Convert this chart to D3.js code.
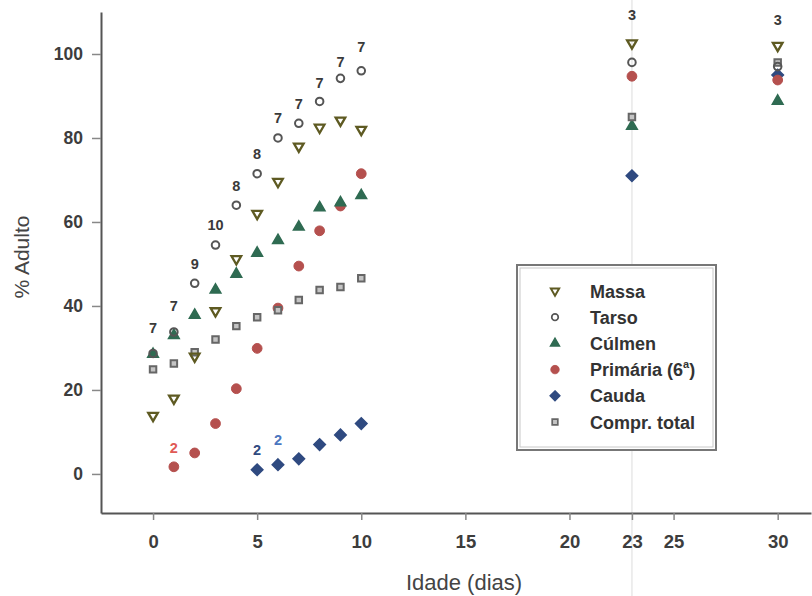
<!DOCTYPE html>
<html>
<head>
<meta charset="utf-8">
<script src="https://d3js.org/d3.v7.min.js"></script>
<style>
  body { margin: 0; background: #fff; }
  svg { display: block; font-family: Arial, "Liberation Sans", sans-serif; }
</style>
</head>
<body>
<script>
// values (% of adult size by age)
const ages = [0, 1, 2, 3, 4, 5, 6, 7, 8, 9, 10, 23, 30];
const massa = [13.9, 18, 28, 38.8, 51.2, 62, 69.6, 78, 82.5, 84.2, 82, 102.6, 102];
const tarso = [28.7, 33.8, 45.4, 54.5, 64, 71.5, 80, 83.5, 88.7, 94.2, 96, 98, 97];
const culmen = [28.5, 33, 37.8, 43.8, 47.6, 52.6, 55.6, 58.8, 63.4, 64.6, 66.3, 82.8, 88.8];
const primariaAges = [1, 2, 3, 4, 5, 6, 7, 8, 9, 10, 23, 30];
const primaria = [1.7, 5, 12, 20.3, 29.9, 39.5, 49.5, 57.9, 63.8, 71.5, 94.7, 93.8];
const caudaAges = [5, 6, 7, 8, 9, 10, 23, 30];
const cauda = [1, 2.2, 3.6, 7, 9.3, 12, 71, 95];
const comprTotal = [24.9, 26.3, 29, 32, 35.2, 37.3, 39, 41.4, 43.8, 44.5, 46.6, 85, 98];

// sample sizes printed above the points
const nAges = [0, 1, 2, 3, 4, 5, 6, 7, 8, 9, 10, 23, 30];
const nLabels = ["7", "7", "9", "10", "8", "8", "7", "7", "7", "7", "7", "3", "3"];
const nPos = [33.5, 38.8, 48.8, 58.2, 67.3, 75, 83.6, 87, 92, 97, 100.5, 108, 107];
const nSmallAges = [1, 5, 6];
const nSmallLabels = ["2", "2", "2"];
const nSmallPos = [5, 4.5, 7];
const nSmallColors = ["#e05a55", "#2f4a80", "#4a76c0"];

const xTicks = [0, 5, 10, 15, 20, 23, 25, 30];
const yTicks = [0, 20, 40, 60, 80, 100];

const series = [
  { name: "Cauda", xs: caudaAges, ys: cauda, sym: d3.symbolDiamond2, size: 85, fill: "#2f4a80", stroke: "#2f4a80", sw: 1.5 },
  { name: "Primária (6ª)", xs: primariaAges, ys: primaria, sym: d3.symbolCircle, size: 75, fill: "#b5504e", stroke: "#b5504e", sw: 1 },
  { name: "Cúlmen", xs: ages, ys: culmen, sym: d3.symbolTriangle, size: 50, fill: "#2f6b52", stroke: "#2f6b52", sw: 1.5 },
  { name: "Compr. total", xs: ages, ys: comprTotal, sym: d3.symbolSquare, size: 42, fill: "#c4c4c4", stroke: "#666", sw: 2 },
  { name: "Tarso", xs: ages, ys: tarso, sym: d3.symbolCircle, size: 45, fill: "none", stroke: "#555", sw: 2 },
  { name: "Massa", xs: ages, ys: massa, sym: d3.symbolTriangle, size: 40, fill: "none", stroke: "#5e5a22", sw: 2.3, flip: true }
];
const legendOrder = ["Massa", "Tarso", "Cúlmen", "Primária (6ª)", "Cauda", "Compr. total"];

const W = 812, H = 596;
const svg = d3.select("body").append("svg").attr("width", W).attr("height", H);

const x = d3.scaleLinear().domain([-2.5, 31.6]).range([101, 811]);
const y = d3.scaleLinear().domain([-9.3, 110]).range([513, 12]);

// faint vertical seam at day 23
svg.append("line")
  .attr("x1", x(23)).attr("x2", x(23)).attr("y1", 0).attr("y2", H)
  .attr("stroke", "#e8e8e8").attr("stroke-width", 1.5);

// axes
const xAxis = svg.append("g").attr("transform", `translate(0,${y(-9.3)})`)
  .call(d3.axisBottom(x).tickValues(xTicks).tickSize(7).tickPadding(15).tickSizeOuter(0));
const yAxis = svg.append("g").attr("transform", `translate(${x(-2.5)},0)`)
  .call(d3.axisLeft(y).tickValues(yTicks).tickSize(9).tickPadding(9).tickSizeOuter(0));
[xAxis, yAxis].forEach(g => {
  g.select(".domain").attr("stroke", "#555").attr("stroke-width", 2);
  g.selectAll(".tick line").attr("stroke", "#888").attr("stroke-width", 1.5);
  g.selectAll(".tick text").attr("fill", "#3d3d3d").attr("font-weight", "bold")
    .attr("font-family", "Arial, 'Liberation Sans', sans-serif");
});
yAxis.selectAll(".tick text").attr("font-size", 17.5);
xAxis.selectAll(".tick text").attr("font-size", 18.5);

// axis titles
svg.append("text")
  .attr("x", 464).attr("y", 590).attr("text-anchor", "middle")
  .attr("font-size", 22).attr("fill", "#444").text("Idade (dias)");
svg.append("text")
  .attr("transform", `translate(29,257) rotate(-90)`)
  .attr("text-anchor", "middle").attr("font-size", 21).attr("fill", "#444").text("% Adulto");

// points
series.forEach(s => {
  svg.append("g").selectAll("path")
    .data(s.xs.map((a, i) => [a, s.ys[i]]))
    .join("path")
    .attr("d", d3.symbol().type(s.sym).size(s.size)())
    .attr("transform", d => `translate(${x(d[0])},${y(d[1])})${s.flip ? " rotate(180)" : ""}`)
    .attr("fill", s.fill).attr("stroke", s.stroke).attr("stroke-width", s.sw);
});

// sample size labels
svg.append("g").selectAll("text")
  .data(nAges.map((a, i) => [a, nPos[i], nLabels[i]]))
  .join("text")
  .attr("x", d => x(d[0])).attr("y", d => y(d[1]))
  .attr("text-anchor", "middle").attr("font-size", 14.5).attr("font-weight", "bold")
  .attr("fill", "#3a3a3a").text(d => d[2]);
svg.append("g").selectAll("text")
  .data(nSmallAges.map((a, i) => [a, nSmallPos[i], nSmallLabels[i], nSmallColors[i]]))
  .join("text")
  .attr("x", d => x(d[0])).attr("y", d => y(d[1]))
  .attr("text-anchor", "middle").attr("font-size", 14.5).attr("font-weight", "bold")
  .attr("fill", d => d[3]).text(d => d[2]);

// legend
const lg = svg.append("g").attr("transform", "translate(517,265)");
lg.append("rect").attr("width", 199).attr("height", 185)
  .attr("fill", "#fff").attr("stroke", "#777").attr("stroke-width", 2);
lg.append("rect").attr("x", 3).attr("y", 3).attr("width", 193).attr("height", 179)
  .attr("fill", "none").attr("stroke", "#c8c8c8").attr("stroke-width", 1);
legendOrder.forEach((name, i) => {
  const s = series.find(d => d.name === name);
  const row = lg.append("g").attr("transform", `translate(0,${26 + i * 26.2})`);
  row.append("path")
    .attr("d", d3.symbol().type(s.sym).size(s.size * 0.75)())
    .attr("transform", `translate(38,0)${s.flip ? " rotate(180)" : ""}`)
    .attr("fill", s.fill).attr("stroke", s.stroke).attr("stroke-width", s.sw * 0.85);
  const t = row.append("text").attr("x", 73).attr("y", 6.5)
    .attr("font-size", 18).attr("font-weight", "bold").attr("fill", "#333");
  if (name === "Primária (6ª)") {
    t.text("Primária (6");
    t.append("tspan").attr("font-size", 11).attr("dy", -8).text("a");
    t.append("tspan").attr("dy", 8).text(")");
  } else {
    t.text(name);
  }
});
</script>
</body>
</html>
